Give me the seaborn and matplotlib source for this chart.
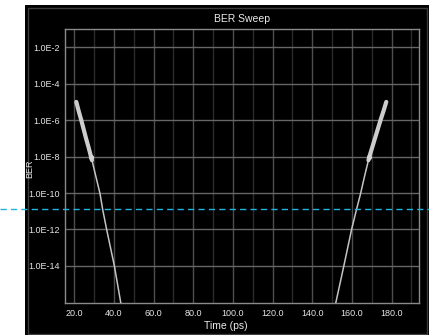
import numpy as np
import pandas as pd
import matplotlib
matplotlib.use("Agg")
import matplotlib.pyplot as plt
from matplotlib.patches import Rectangle
from matplotlib.ticker import FixedLocator, FuncFormatter
import seaborn as sns

# Measured BER points (time in ps, BER as log10) on both eye edges
left_meas_t = [21.0, 22.2, 23.5, 24.7, 25.9, 27.2, 28.4, 28.9]
left_meas_log = [-5.0, -5.5, -6.0, -6.5, -7.0, -7.5, -8.0, -8.2]
right_meas_t = [177.3, 175.9, 174.4, 173.0, 171.6, 170.2, 168.8, 168.3]
right_meas_log = [-5.0, -5.5, -6.0, -6.5, -7.0, -7.5, -8.0, -8.2]

# Extrapolated bathtub edges
left_fit_t = [28.9, 31.0, 32.95, 34.3, 36.3, 40.2, 43.5]
left_fit_log = [-8.2, -9.15, -10.03, -10.9, -12.0, -14.0, -16.07]
right_fit_t = [168.3, 166.3, 164.35, 162.3, 159.8, 155.9, 151.75]
right_fit_log = [-8.2, -9.1, -10.03, -10.9, -12.0, -14.0, -16.07]

ber_target_log = -10.9

x_major = [20, 40, 60, 80, 100, 120, 140, 160, 180]
x_minor = [30, 50, 70, 90, 110, 130, 150, 170, 190]
y_exponents = [-2, -4, -6, -8, -10, -12, -14]

sns.set_theme(style="dark")
plt.rcParams["font.family"] = ["Liberation Sans", "DejaVu Sans"]

W, H = 429, 335
fig = plt.figure(figsize=(W / 100, H / 100), dpi=100, facecolor="white")

# dark instrument panel behind the plot
fig.patches.append(Rectangle((25 / W, 0), 1 - 25 / W, (H - 5) / H,
                             transform=fig.transFigure, facecolor="black",
                             edgecolor="none", zorder=-2))
fig.patches.append(Rectangle((28 / W, 1 / H), 1 - 30 / W, (H - 9) / H,
                             transform=fig.transFigure, facecolor="none",
                             edgecolor="#3c3c3c", linewidth=1.0, zorder=-1))

ax = fig.add_axes([65 / W, (H - 303.3) / H, 354 / W, (303.3 - 29) / H])
ax.set_facecolor("black")

left_meas = pd.DataFrame({"t": left_meas_t, "ber": np.power(10.0, left_meas_log)})
right_meas = pd.DataFrame({"t": right_meas_t, "ber": np.power(10.0, right_meas_log)})
left_fit = pd.DataFrame({"t": left_fit_t, "ber": np.power(10.0, left_fit_log)})
right_fit = pd.DataFrame({"t": right_fit_t, "ber": np.power(10.0, right_fit_log)})

ax.set_yscale("log")
ax.set_xlim(15.3, 193.8)
ax.set_ylim(10 ** -16.05, 10 ** -1.0)

for df in (left_fit, right_fit):
    sns.lineplot(data=df, x="t", y="ber", ax=ax, color="#c4c4c4",
                 linewidth=1.1, sort=False, zorder=3)
for df in (left_meas, right_meas):
    sns.lineplot(data=df, x="t", y="ber", ax=ax, color="#cdcdcd",
                 linewidth=3.0, sort=False, zorder=4,
                 solid_capstyle="round")
    sns.scatterplot(data=df.iloc[[-2]], x="t", y="ber", ax=ax,
                    color="#d4d4d4", s=14, linewidth=0, zorder=5)

# grid
ax.xaxis.set_major_locator(FixedLocator(x_major))
ax.xaxis.set_minor_locator(FixedLocator(x_minor))
ax.yaxis.set_major_locator(FixedLocator([10.0 ** e for e in y_exponents]))
ax.yaxis.set_minor_locator(FixedLocator([]))
ax.xaxis.set_major_formatter(FuncFormatter(lambda v, p: f"{v:.1f}"))
ax.yaxis.set_major_formatter(FuncFormatter(
    lambda v, p: f"1.0E{int(round(np.log10(v)))}"))
ax.grid(True, which="major", axis="y", color="#666666", linewidth=1.0)
ax.grid(True, which="major", axis="x", color="#4e4e4e", linewidth=1.0)
ax.grid(True, which="minor", axis="x", color="#2c2c2c", linewidth=1.0)
ax.set_axisbelow(True)

for s in ax.spines.values():
    s.set_visible(True)
    s.set_color("#8a8a8a")
    s.set_linewidth(1.0)

ax.tick_params(axis="both", which="major", labelsize=6.5, colors="#e6e6e6",
               length=2, width=0.8, pad=1.5)
ax.tick_params(axis="y", which="major", color="#8a8a8a")
ax.tick_params(axis="x", which="major", length=0, pad=4)
ax.tick_params(which="minor", length=0)

ax.set_title("BER Sweep", fontsize=7.5, color="#ececec", pad=5)
ax.set_xlabel("Time (ps)", fontsize=7.5, color="#ececec", labelpad=1)
ax.set_ylabel("BER", fontsize=6.5, color="#ececec")
ax.xaxis.set_label_coords((226 - 65) / 354, -0.065)
ax.yaxis.set_label_coords(-(65 - 34) / 354, 0.49)

# BER target reference across the full width
ax.axhline(10 ** ber_target_log, xmin=-65 / 354, xmax=1 + 10 / 354,
           color="#22b4dc", linewidth=1.0, linestyle=(0, (4.5, 3)),
           clip_on=False, zorder=6)

fig.savefig("out.png", dpi=100, facecolor="white")
